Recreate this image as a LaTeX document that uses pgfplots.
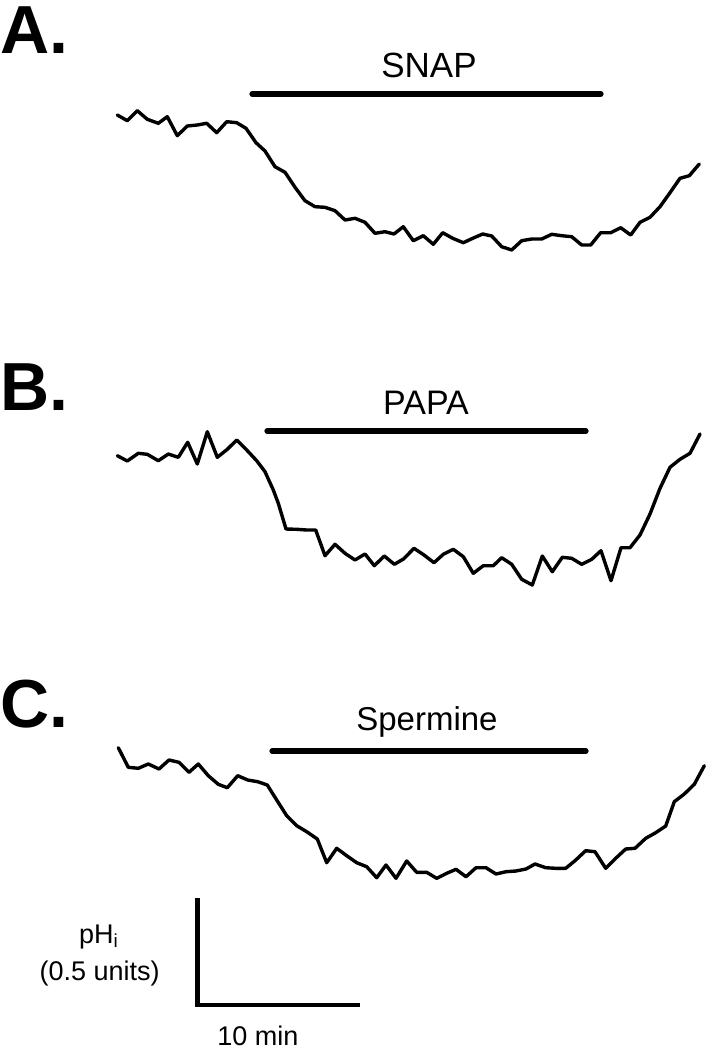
\documentclass[border=0pt]{standalone}
\usepackage{pgfplots}
\pgfplotsset{compat=1.18}
\usepackage{fontspec}
\setmainfont{Liberation Sans}
\begin{document}
\begin{tikzpicture}
\begin{axis}[
  width=353.5pt, height=525pt, scale only axis,
  xmin=0, xmax=707, ymin=0, ymax=1050, y dir=reverse,
  hide axis, clip=false,
  trace/.style={black, line width=1.7pt, line join=round, line cap=round, mark=none},
  bar/.style={black, line width=2.6pt, line cap=round, mark=none},
]
% Trace A (SNAP)
\addplot[trace] coordinates {
(117.3,115)(127.3,120.7)(137.3,110.7)(147.3,119.3)(158.3,123.3)(167.3,116.7)(177.3,135.7)(187.3,126)(197.3,125)(206.7,123.3)
(216.7,132.7)(226.7,121.7)(236.7,122.7)(246,128.3)(256,142.7)(265,151)(275,166.7)(285,172.3)(295,187.3)(305,200.7)
(315,206.7)(325,207.3)(335,210.7)(345,220)(355,218.3)(365,222.3)(375,233.3)(385,231.7)(394,234)(403.3,226.7)
(413.3,240.7)(423.3,235.7)(433.3,244.3)(442.7,232.7)(452.7,238.3)(463.3,242.7)(472.7,238.3)(482.7,234)(491.7,236)(501.7,246.7)
(511.7,250)(521.7,240.7)(531.7,239)(541.7,239)(551.7,234.3)(561.7,235.7)(571.7,236.7)(581.7,245)(590.7,245)(600.7,232.7)
(610.7,232.7)(620.7,227.7)(630.7,235)(640,222.3)(650,217.3)(660,206.7)(670,192.7)(680,178.3)(689.3,175.7)(699.3,164)
};
% Trace B (PAPA)
\addplot[trace] coordinates {
(117.3,455.7)(127.3,461)(138.3,453.3)(147.3,454.3)(158.3,460.7)(168.3,454)(178.3,457.3)(187.7,442.3)(197.3,464)(207.3,431.7)
(217.3,457.3)(227.3,449.3)(236.7,440)(246.7,450)(256.7,460.7)(265,471.7)(273.3,490)(278.3,503.3)(286,529)(296.7,529.3)
(306.7,530)(315.7,530)(325,555.7)(335,544.3)(345,553.3)(355,560)(365,554)(374.3,565.7)(384.3,556)(394.3,564.3)
(403.5,559)(414,548.3)(424,555)(434,562.7)(443.3,554.3)(453.3,549.3)(463.3,556.7)(473.3,573.3)(483.3,565.7)(493.3,565.7)
(501.7,557.7)(511.7,564.3)(521.7,579.3)(532.3,585)(542.3,556)(552.3,571.7)(562.3,557.3)(571.7,558.3)(581.7,564.3)(591.7,559.3)
(601,550.7)(611,580.7)(621,547.7)(630,547.7)(640,535)(650,514)(660,488.3)(670,467.3)(680,459.3)(690,453.3)(700,434)
};
% Trace C (Spermine)
\addplot[trace] coordinates {
(118.3,747.7)(128.3,767.3)(138.3,768.3)(148.3,764)(159,769)(169,760)(179,762.3)(189,772.3)(198.3,764)(208.3,775.7)
(218.3,784.3)(227.3,787.7)(237.7,775.7)(247.7,780)(257.7,781.7)(267.3,785)(276.7,800)(286.7,815.7)(296.7,825.7)(306.7,831.7)
(317.3,839)(326.7,862.7)(336.7,848.3)(346.7,855.7)(356.7,862.7)(366.7,866.7)(376.7,877.7)(386,865)(396,878.3)(406.7,861)
(416.7,872.3)(426.7,872.3)(436.7,878.3)(446.7,873.3)(456,869.3)(466,876.7)(476,867.7)(486,867.7)(496,874)(506,871.7)
(516,871)(526,869)(535,864)(545.7,867.7)(555.7,868.3)(565.7,868.3)(575,860.7)(585.7,850.7)(595,851.7)(605.7,868.3)
(615.7,858.3)(625.7,849)(635,848.3)(645.7,838.3)(655.7,832.7)(665.7,826)(674.3,801.7)(684.3,794)(694.3,784.3)(704.3,765.7)
};
% Treatment bars
\addplot[bar] coordinates {(252,94)(601,94)};
\addplot[bar] coordinates {(267,431)(586,431)};
\addplot[bar] coordinates {(272,751)(586,751)};
% Scale bar
\addplot[black, line width=2.3pt, line join=miter, mark=none] coordinates {(197.7,898)(197.7,1005)(359.5,1005)};
% Labels
\node[anchor=base, font=\fontsize{17.5}{20}\selectfont, inner sep=0pt] at (axis cs:429,77) {SNAP};
\node[anchor=base, font=\fontsize{17}{20}\selectfont, inner sep=0pt] at (axis cs:426,414) {PAPA};
\node[anchor=base, font=\fontsize{16.5}{20}\selectfont, inner sep=0pt] at (axis cs:427,730) {Spermine};
\node[anchor=base west, font=\fontsize{34}{40}\selectfont\bfseries, inner sep=0pt] at (axis cs:0,53) {A.};
\node[anchor=base west, font=\fontsize{34}{40}\selectfont\bfseries, inner sep=0pt] at (axis cs:0,410) {B.};
\node[anchor=base west, font=\fontsize{34}{40}\selectfont\bfseries, inner sep=0pt] at (axis cs:0,727) {C.};
\node[anchor=base, font=\fontsize{13.5}{16}\selectfont, inner sep=0pt] at (axis cs:99,943) {pH\textsubscript{i}};
\node[anchor=base, font=\fontsize{13.5}{16}\selectfont, inner sep=0pt] at (axis cs:99.7,980) {(0.5 units)};
\node[anchor=base, font=\fontsize{13.5}{16}\selectfont, inner sep=0pt] at (axis cs:258,1045) {10 min};
\end{axis}
\pgfresetboundingbox
\path[use as bounding box] (current axis.south west) rectangle (current axis.north east);
\end{tikzpicture}
\end{document}
